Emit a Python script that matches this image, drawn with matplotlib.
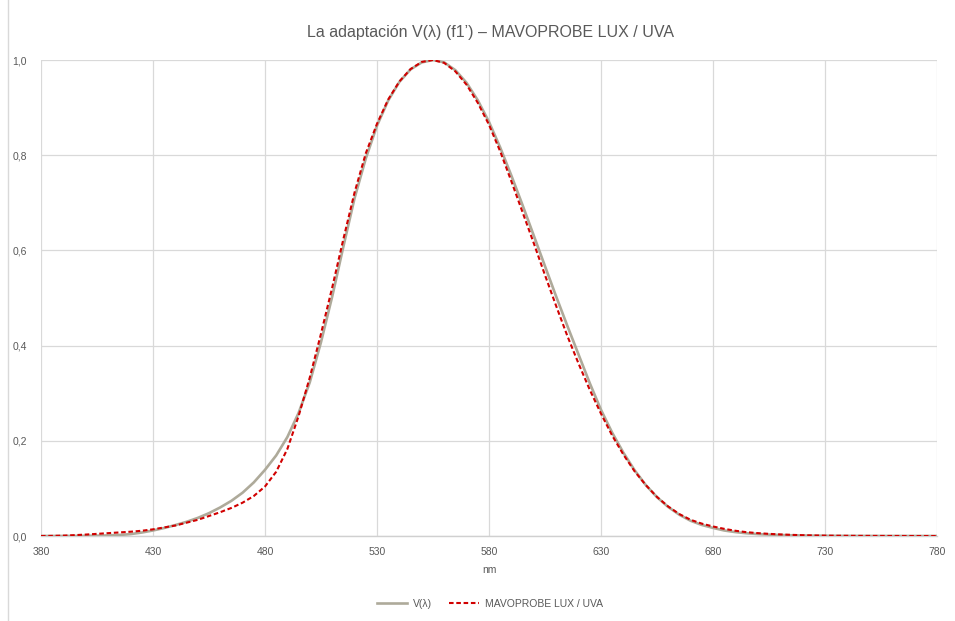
import matplotlib
matplotlib.use("Agg")
import matplotlib.pyplot as plt
from matplotlib.lines import Line2D
from matplotlib.ticker import FuncFormatter

# Wavelengths (nm) at 5 nm steps
wavelengths = [380, 385, 390, 395, 400, 405, 410, 415, 420, 425, 430, 435, 440, 445, 450,
               455, 460, 465, 470, 475, 480, 485, 490, 495, 500, 505, 510, 515, 520, 525,
               530, 535, 540, 545, 550, 555, 560, 565, 570, 575, 580, 585, 590, 595, 600,
               605, 610, 615, 620, 625, 630, 635, 640, 645, 650, 655, 660, 665, 670, 675,
               680, 685, 690, 695, 700, 705, 710, 715, 720, 725, 730, 735, 740, 745, 750,
               755, 760, 765, 770, 775, 780]

# V(lambda) curve
v_lambda = [0.000039, 0.000064, 0.00012, 0.000217, 0.000396, 0.00064, 0.00121, 0.00218, 0.004,
            0.0073, 0.0116, 0.01684, 0.023, 0.0298, 0.038, 0.048, 0.06, 0.0739, 0.091,
            0.1126, 0.139, 0.1693, 0.208, 0.2586, 0.323, 0.4073, 0.503, 0.6082, 0.71,
            0.7932, 0.862, 0.9149, 0.954, 0.9803, 0.995, 1.0, 0.995, 0.9786, 0.952,
            0.9154, 0.87, 0.8163, 0.757, 0.6949, 0.631, 0.5668, 0.503, 0.4412, 0.381,
            0.321, 0.265, 0.217, 0.175, 0.1382, 0.107, 0.0816, 0.061, 0.0446, 0.032,
            0.0232, 0.017, 0.0116, 0.0082, 0.0057, 0.0041, 0.0029, 0.0021, 0.0015, 0.00105,
            0.00074, 0.00052, 0.00036, 0.00025, 0.00017, 0.00012, 0.000085, 0.00006,
            0.000042, 0.00003, 0.000021, 0.000015]

# MAVOPROBE LUX / UVA relative response
mavoprobe = [0.0, 0.0003, 0.0008, 0.0018, 0.003, 0.0045, 0.006, 0.0075, 0.009, 0.011,
             0.014, 0.018, 0.022, 0.028, 0.034, 0.042, 0.05, 0.059, 0.07, 0.084,
             0.104, 0.135, 0.183, 0.252, 0.333, 0.425, 0.522, 0.624, 0.722, 0.804,
             0.866, 0.917, 0.955, 0.981, 0.996, 1.0, 0.994, 0.976, 0.948, 0.91,
             0.864, 0.808, 0.745, 0.68, 0.615, 0.548, 0.483, 0.42, 0.362, 0.307,
             0.257, 0.211, 0.171, 0.136, 0.107, 0.082, 0.062, 0.046, 0.034, 0.026,
             0.02, 0.015, 0.011, 0.008, 0.006, 0.0045, 0.0033, 0.0024, 0.0017, 0.0012,
             0.0008, 0.0006, 0.0004, 0.0003, 0.0002, 0.00015, 0.0001, 0.00005, 0.0, 0.0, 0.0]

x_ticks = [380, 430, 480, 530, 580, 630, 680, 730, 780]
y_ticks = [0.0, 0.2, 0.4, 0.6, 0.8, 1.0]

title = "La adaptación V(λ) (f1’) – MAVOPROBE LUX / UVA"
series_names = ["V(λ)", "MAVOPROBE LUX / UVA"]

plt.rcParams['font.family'] = ['Liberation Sans', 'DejaVu Sans']
txt = '#595959'

fig = plt.figure(figsize=(9.55, 6.21), dpi=100)
ax = fig.add_axes([41/955, 1-536/621, (937-41)/955, (536-60)/621])

ax.plot(wavelengths, v_lambda, color='#aeaa9a', lw=1.9, label=series_names[0],
        solid_capstyle='round', zorder=3)
ax.plot(wavelengths, mavoprobe, color='#d10000', lw=1.5, ls=(0, (2.2, 1.3)),
        label=series_names[1], zorder=4)

ax.set_xlim(380, 780)
ax.set_ylim(0, 1.0)
ax.set_xticks(x_ticks)
ax.set_yticks(y_ticks)
ax.yaxis.set_major_formatter(FuncFormatter(lambda v, p: f"{v:.1f}".replace('.', ',')))
ax.grid(True, color='#d9d9d9', lw=0.9, zorder=0)
ax.set_axisbelow(True)
for s in ['top', 'right', 'left']:
    ax.spines[s].set_visible(False)
ax.spines['bottom'].set_color('#d0d0d0')
ax.spines['bottom'].set_linewidth(1.0)
ax.tick_params(axis='both', length=0, labelsize=7.5, colors=txt)
ax.tick_params(axis='x', pad=8)
ax.tick_params(axis='y', pad=10)

ax.set_xlabel("nm", fontsize=7.5, color=txt, labelpad=6)
fig.text(490/955, 1-33/621, title, ha='center', va='center', fontsize=11.5, color=txt)

handles = [Line2D([], [], color='#aeaa9a', lw=1.9),
           Line2D([], [], color='#d10000', lw=1.5, ls=(0, (2.2, 1.3)))]
fig.legend(handles, series_names, loc='center', bbox_to_anchor=(490/955, 1-604/621),
           ncol=2, frameon=False, fontsize=7.5, labelcolor=txt, handlelength=2.9,
           columnspacing=1.6, handletextpad=0.6)

fig.add_artist(Line2D([7.5/955, 7.5/955], [0, 1], transform=fig.transFigure,
                      color='#d9d9d9', lw=1.0))

fig.savefig("out.png", dpi=100)
